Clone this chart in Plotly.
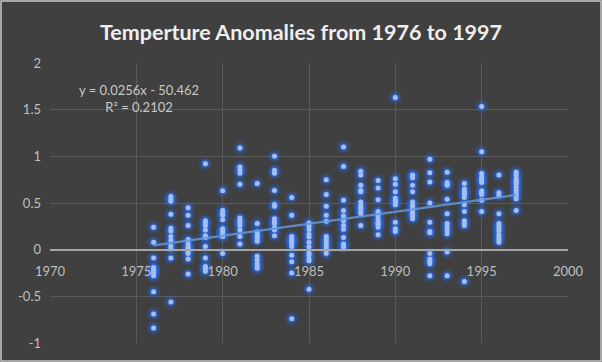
import numpy as np
import plotly.graph_objects as go

years = list(range(1976, 1998))

anomalies = [
    [0.24, 0.08, -0.09, -0.19, -0.21, -0.22, -0.24, -0.26, -0.28, -0.45, -0.69, -0.84],  # 1976
    [0.57, 0.54, 0.52, 0.38, 0.23, 0.20, 0.14, 0.10, 0.04, 0.01, -0.09, -0.56],            # 1977
    [0.45, 0.37, 0.26, 0.11, 0.06, 0.035, 0.01, 0.00, -0.015, -0.04, -0.10, -0.26],        # 1978
    [0.92, 0.31, 0.29, 0.26, 0.21, 0.15, 0.13, 0.035, -0.09, -0.18, -0.20, -0.23],         # 1979
    [0.63, 0.42, 0.39, 0.37, 0.32, 0.225, 0.21, 0.19, 0.18, 0.16, 0.14, -0.04],            # 1980
    [1.09, 0.885, 0.855, 0.82, 0.70, 0.34, 0.31, 0.285, 0.26, 0.21, 0.14, 0.06],           # 1981
    [0.71, 0.28, 0.19, 0.16, 0.14, 0.12, 0.09, -0.07, -0.11, -0.15, -0.18, -0.20],         # 1982
    [1.00, 0.85, 0.82, 0.635, 0.485, 0.465, 0.33, 0.30, 0.28, 0.235, 0.21, 0.15],          # 1983
    [0.56, 0.37, 0.14, 0.12, 0.10, 0.09, 0.065, 0.035, -0.06, -0.13, -0.25, -0.74],        # 1984
    [0.285, 0.25, 0.215, 0.165, 0.135, 0.08, 0.03, -0.035, -0.06, -0.10, -0.12, -0.425],   # 1985
    [0.75, 0.59, 0.465, 0.37, 0.305, 0.14, 0.11, 0.08, 0.045, 0.02, -0.01, -0.04],         # 1986
    [1.10, 0.89, 0.53, 0.42, 0.36, 0.31, 0.26, 0.22, 0.13, 0.06, 0.04, 0.03],              # 1987
    [0.84, 0.80, 0.69, 0.635, 0.62, 0.51, 0.475, 0.45, 0.44, 0.41, 0.385, 0.26],           # 1988
    [0.74, 0.66, 0.535, 0.41, 0.385, 0.36, 0.32, 0.295, 0.28, 0.27, 0.24, 0.16],           # 1989
    [1.63, 0.76, 0.70, 0.62, 0.55, 0.53, 0.51, 0.50, 0.48, 0.295, 0.225, 0.195],           # 1990
    [0.80, 0.79, 0.77, 0.69, 0.62, 0.51, 0.475, 0.445, 0.41, 0.385, 0.36, 0.33],           # 1991
    [0.97, 0.825, 0.725, 0.50, 0.295, 0.195, 0.18, -0.04, -0.10, -0.125, -0.15, -0.28],    # 1992
    [0.83, 0.72, 0.70, 0.69, 0.54, 0.385, 0.28, 0.25, 0.21, 0.17, -0.025, -0.28],          # 1993
    [0.71, 0.65, 0.62, 0.60, 0.59, 0.56, 0.48, 0.41, 0.31, 0.28, 0.26, -0.34],             # 1994
    [1.535, 1.05, 0.815, 0.78, 0.76, 0.74, 0.72, 0.63, 0.61, 0.59, 0.53, 0.41],            # 1995
    [0.80, 0.61, 0.58, 0.385, 0.28, 0.25, 0.225, 0.20, 0.16, 0.135, 0.11, 0.08],           # 1996
    [0.83, 0.80, 0.76, 0.74, 0.72, 0.70, 0.67, 0.635, 0.61, 0.58, 0.545, 0.42],            # 1997
]

x_ticks = [1970, 1975, 1980, 1985, 1990, 1995, 2000]
y_ticks = [-1, -0.5, 0, 0.5, 1, 1.5, 2]
y_tick_labels = ["-1", "-0.5", "0", "0.5", "1", "1.5", "2"]

title_text = "Temperture Anomalies from 1976 to 1997"
equation_text = "y = 0.0256x - 50.462<br>R² = 0.2102"

xs = [yr for yr, vals in zip(years, anomalies) for _ in vals]
ys = [v for vals in anomalies for v in vals]

slope, intercept = np.polyfit(xs, ys, 1)
trend_x = [min(years), max(years)]
trend_y = [slope * x + intercept for x in trend_x]

BG = "#404040"
fig = go.Figure()

# glow layers
for size, alpha in [(14, 0.16), (10, 0.32), (7, 0.6)]:
    fig.add_trace(go.Scatter(
        x=xs, y=ys, mode="markers",
        marker=dict(size=size, color=f"rgba(45,105,225,{alpha})", line=dict(width=0)),
        hoverinfo="skip", showlegend=False))
fig.add_trace(go.Scatter(
    x=xs, y=ys, mode="markers",
    marker=dict(size=5, color="#a3bff0", line=dict(width=0)),
    showlegend=False))

fig.add_trace(go.Scatter(
    x=trend_x, y=trend_y, mode="lines",
    line=dict(color="rgba(100,150,220,0.85)", width=2.2),
    hoverinfo="skip", showlegend=False))

fig.update_layout(
    width=602, height=362,
    paper_bgcolor=BG, plot_bgcolor=BG,
    margin=dict(l=50, r=34, t=63, b=19),
    font=dict(family="Lato, Carlito, sans-serif", color="#bfbfbf", size=13),
    title=dict(text=f"<b>{title_text}</b>", x=0.5, xanchor="center",
               y=1 - 32 / 362, yanchor="middle",
               font=dict(size=21.5, color="#eeeeee", family="Lato, sans-serif")),
    xaxis=dict(range=[1970, 2000], tickvals=x_ticks, ticktext=[str(t) for t in x_ticks],
               showgrid=True, gridcolor="#5a5a5a", gridwidth=1,
               zeroline=False, showline=True, linecolor="#a6a6a6", linewidth=1.5,
               anchor="free", position=1 / 3, ticks="", ticklen=0,
               ticklabelstandoff=10,
               tickfont=dict(size=13, color="#bfbfbf")),
    yaxis=dict(range=[-1, 2], tickvals=y_ticks, ticktext=y_tick_labels,
               showgrid=True, gridcolor="#5a5a5a", gridwidth=1,
               zeroline=False, showline=False, ticks="", ticklabelstandoff=8,
               tickfont=dict(size=13, color="#bfbfbf")),
    annotations=[dict(text=equation_text, x=1975.15, y=1.62, xref="x", yref="y",
                      showarrow=False, align="center",
                      font=dict(size=13, color="#c8c8c8"))],
    shapes=[dict(type="rect", xref="paper", yref="paper",
                 x0=-49 / 518, x1=1 + 33 / 518, y0=-18 / 280, y1=1 + 62 / 280,
                 line=dict(color="#c8c8c8", width=1.5), layer="below")],
)

fig.write_html(
    "out.html",
    config={"displayModeBar": False},
    post_script="document.body.style.margin='0';document.body.style.background='#404040';",
)
